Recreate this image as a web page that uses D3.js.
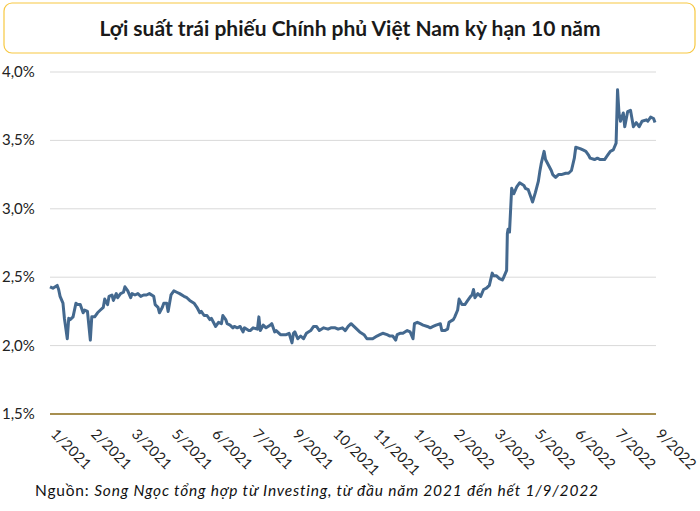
<!DOCTYPE html>
<html>
<head>
<meta charset="utf-8">
<script src="https://cdn.jsdelivr.net/npm/d3@7"></script>
<style>
  body { margin: 0; background: #fff; }
  svg { display: block; font-family: Lato, "Open Sans", sans-serif; }
</style>
</head>
<body>
<svg id="chart"></svg>
<script>
// Lợi suất TPCP kỳ hạn 10 năm (chỉ số ngày giao dịch, %)
const days = [0, 2, 5, 6, 7, 9, 10, 12, 13, 14, 16, 18, 19, 21, 23, 24, 26, 28, 29, 31,
  33, 35, 37, 38, 40, 41, 43, 44, 46, 47, 49, 51, 52, 54, 56, 57, 59, 61, 63, 65,
  67, 69, 72, 73, 75, 76, 78, 79, 81, 82, 84, 86, 88, 90, 93, 95, 97, 100, 102, 104,
  105, 107, 109, 111, 112, 114, 115, 117, 119, 120, 122, 123, 125, 127, 128, 130, 132, 134, 135, 138,
  139, 141, 144, 145, 146, 148, 150, 153, 154, 156, 157, 160, 162, 164, 166, 168, 169, 170, 172, 174,
  176, 178, 181, 183, 185, 187, 190, 193, 195, 198, 200, 203, 205, 207, 209, 211, 213, 215, 218, 220,
  222, 224, 227, 229, 231, 234, 236, 238, 240, 241, 243, 245, 248, 250, 252, 253, 255, 257, 259, 262,
  264, 266, 268, 271, 272, 274, 276, 277, 280, 281, 283, 284, 286, 288, 290, 292, 293, 294, 295, 297,
  299, 301, 303, 305, 307, 308, 310, 312, 314, 315, 317, 317.5, 318, 319, 320.5, 322, 324, 326, 329, 330,
  332, 334, 335, 337, 339, 340, 341, 343, 344, 346, 348, 349, 351, 353, 355, 358, 360, 362, 364, 365,
  368, 370, 372, 374, 375, 378, 380, 382, 385, 387, 389, 391, 393, 394, 395, 396, 398, 399, 401, 403,
  405, 407, 409, 411, 414, 415, 417, 419, 420];
const yields = [2.43, 2.42, 2.44, 2.41, 2.36, 2.31, 2.20, 2.05, 2.20, 2.19, 2.21, 2.31, 2.30, 2.30, 2.24, 2.26, 2.25, 2.04, 2.21, 2.21,
  2.24, 2.26, 2.28, 2.34, 2.30, 2.36, 2.37, 2.33, 2.38, 2.35, 2.38, 2.39, 2.43, 2.40, 2.35, 2.38, 2.37, 2.38, 2.36, 2.37,
  2.37, 2.38, 2.36, 2.30, 2.28, 2.24, 2.28, 2.31, 2.31, 2.25, 2.37, 2.40, 2.39, 2.38, 2.36, 2.35, 2.33, 2.31, 2.28, 2.24,
  2.25, 2.22, 2.22, 2.19, 2.20, 2.16, 2.14, 2.17, 2.16, 2.22, 2.19, 2.16, 2.15, 2.13, 2.14, 2.13, 2.14, 2.10, 2.13, 2.11,
  2.11, 2.13, 2.12, 2.21, 2.11, 2.15, 2.13, 2.15, 2.16, 2.10, 2.11, 2.08, 2.08, 2.08, 2.09, 2.02, 2.09, 2.10, 2.05, 2.07,
  2.05, 2.09, 2.11, 2.14, 2.14, 2.11, 2.13, 2.12, 2.13, 2.13, 2.12, 2.13, 2.11, 2.14, 2.16, 2.14, 2.12, 2.10, 2.08, 2.05,
  2.05, 2.05, 2.07, 2.08, 2.09, 2.08, 2.07, 2.07, 2.04, 2.08, 2.09, 2.09, 2.11, 2.10, 2.05, 2.16, 2.17, 2.16, 2.15, 2.14,
  2.13, 2.14, 2.15, 2.16, 2.11, 2.11, 2.12, 2.17, 2.19, 2.21, 2.26, 2.34, 2.30, 2.30, 2.33, 2.36, 2.37, 2.41, 2.35, 2.38,
  2.36, 2.41, 2.42, 2.44, 2.53, 2.51, 2.51, 2.49, 2.48, 2.50, 2.55, 2.82, 2.85, 2.83, 3.15, 3.11, 3.16, 3.19, 3.17, 3.15,
  3.14, 3.08, 3.05, 3.12, 3.20, 3.27, 3.33, 3.42, 3.36, 3.32, 3.28, 3.25, 3.23, 3.25, 3.25, 3.26, 3.26, 3.28, 3.37, 3.45,
  3.44, 3.43, 3.42, 3.39, 3.37, 3.36, 3.37, 3.36, 3.36, 3.39, 3.42, 3.43, 3.48, 3.87, 3.70, 3.64, 3.70, 3.60, 3.71, 3.72,
  3.60, 3.63, 3.60, 3.64, 3.65, 3.64, 3.67, 3.66, 3.63];
const xLabels = ["1/2021", "2/2021", "3/2021", "5/2021", "6/2021", "7/2021", "9/2021", "10/2021",
  "11/2021", "1/2022", "2/2022", "3/2022", "5/2022", "6/2022", "7/2022", "9/2022"];
const yTicks = [1.5, 2.0, 2.5, 3.0, 3.5, 4.0];
const labelStep = 28; // số ngày giữa hai nhãn trục hoành

const width = 700, height = 511;
const svg = d3.select("#chart").attr("width", width).attr("height", height);

// Khung tiêu đề
svg.append("rect")
  .attr("x", 4).attr("y", 3).attr("width", 691).attr("height", 50)
  .attr("rx", 8).attr("ry", 8)
  .attr("fill", "#fff").attr("stroke", "#f7c842").attr("stroke-width", 1.2);
svg.append("text")
  .attr("x", 350).attr("y", 36)
  .attr("text-anchor", "middle")
  .attr("font-size", 21).attr("font-weight", "bold").attr("fill", "#1a1a1a")
  .text("Lợi suất trái phiếu Chính phủ Việt Nam kỳ hạn 10 năm");

const x = d3.scaleLinear().domain([0, labelStep * (xLabels.length - 1)]).range([50, 655]);
const y = d3.scaleLinear().domain([1.5, 4.0]).range([414, 72]);

// Lưới ngang
svg.append("g")
  .selectAll("line")
  .data(yTicks.filter(d => d > 1.5))
  .join("line")
  .attr("x1", 50).attr("x2", 656)
  .attr("y1", d => y(d)).attr("y2", d => y(d))
  .attr("stroke", "#d9d9d9").attr("stroke-width", 1);

// Trục đáy
svg.append("line")
  .attr("x1", 50).attr("x2", 656)
  .attr("y1", y(1.5)).attr("y2", y(1.5))
  .attr("stroke", "#8a6a16").attr("stroke-width", 1.5);

// Nhãn trục tung
const fmt = d => d.toFixed(1).replace(".", ",") + "%";
svg.append("g")
  .selectAll("text")
  .data(yTicks)
  .join("text")
  .attr("x", 2).attr("y", d => y(d) + 5)
  .attr("font-size", 15).attr("fill", "#222")
  .text(fmt);

// Nhãn trục hoành (xoay 45°)
svg.append("g")
  .selectAll("text")
  .data(xLabels)
  .join("text")
  .attr("transform", (d, i) => `translate(${x(i * labelStep)}, ${435}) rotate(45)`)
  .attr("font-size", 14.5).attr("letter-spacing", 0.2).attr("fill", "#222")
  .text(d => d);

// Đường lợi suất
const data = days.map((d, i) => ({ day: d, v: yields[i] }));
const line = d3.line()
  .x(d => x(d.day))
  .y(d => y(d.v));
svg.append("path")
  .datum(data)
  .attr("d", line)
  .attr("fill", "none")
  .attr("stroke", "#44698f")
  .attr("stroke-width", 3)
  .attr("stroke-linejoin", "round");

// Nguồn
const src = svg.append("text")
  .attr("x", 35).attr("y", 496)
  .attr("font-size", 15.5).attr("letter-spacing", 0.8).attr("fill", "#111");
src.append("tspan").text("Nguồn: ");
src.append("tspan").attr("font-style", "italic")
  .text("Song Ngọc tổng hợp từ Investing, từ đầu năm 2021 đến hết 1/9/2022");
</script>
</body>
</html>
